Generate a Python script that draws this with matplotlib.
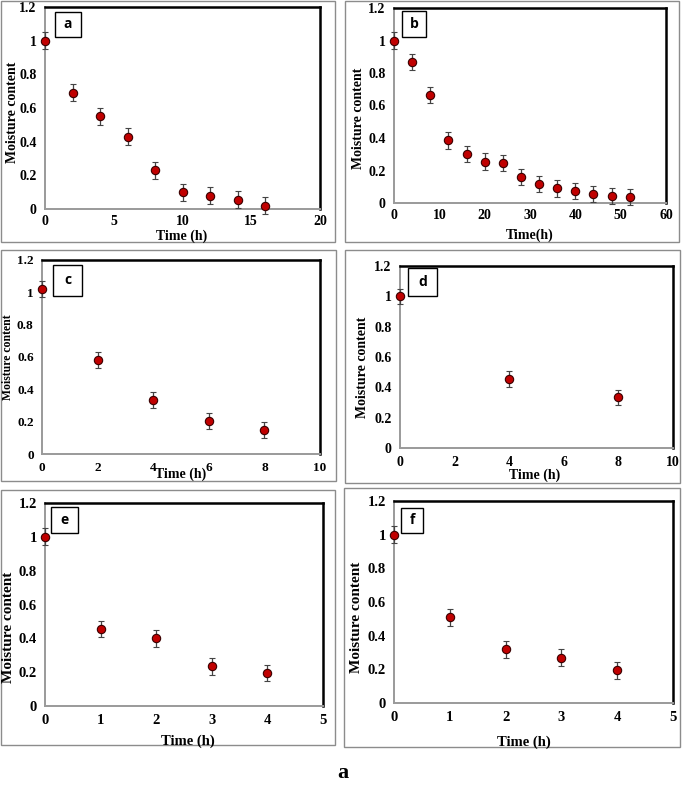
import matplotlib
matplotlib.use("Agg")
import matplotlib.pyplot as plt
from matplotlib.patches import Rectangle
from matplotlib.ticker import FormatStrFormatter

W, H = 685, 793

# data (time in h, normalised moisture content)
time_a = [0, 2, 4, 6, 8, 10, 12, 14, 16]
mc_a = [1.0, 0.69, 0.55, 0.43, 0.23, 0.10, 0.08, 0.055, 0.02]
time_b = [0, 4, 8, 12, 16, 20, 24, 28, 32, 36, 40, 44, 48, 52]
mc_b = [1.0, 0.87, 0.665, 0.385, 0.30, 0.255, 0.245, 0.16, 0.115, 0.09, 0.075, 0.055, 0.045, 0.035]
time_c = [0, 2, 4, 6, 8]
mc_c = [1.02, 0.58, 0.335, 0.205, 0.15]
time_d = [0, 4, 8]
mc_d = [1.0, 0.455, 0.335]
time_e = [0, 1, 2, 3, 4]
mc_e = [1.0, 0.455, 0.40, 0.235, 0.195]
time_f = [0, 1, 2, 3, 4]
mc_f = [1.0, 0.51, 0.32, 0.27, 0.195]
err = 0.05

letters = ["a", "b", "c", "d", "e", "f"]
xlabels = ["Time (h)", "Time(h)", "Time (h)", "Time (h)", "Time (h)", "Time (h)"]
xmax = [20, 60, 10, 10, 5, 5]
xstep = [5, 10, 2, 2, 1, 1]


def fx(px):
    return px / W


def fy(py):
    return 1 - py / H


def rect(x0, y0, x1, y1):
    # pixel box (top-left origin) -> figure fraction rect
    return [fx(x0), fy(y1), fx(x1) - fx(x0), fy(y0) - fy(y1)]


fig = plt.figure(figsize=(W / 100, H / 100), dpi=100)

# outer grey frames of each panel
frames = [(0, 0, 335, 242), (344, 0, 679, 242), (0, 249, 336, 481),
          (344, 249, 680, 483), (0, 489, 335, 745), (343, 487, 680, 747)]
for x0, y0, x1, y1 in frames:
    fig.add_artist(Rectangle((fx(x0 + 0.5), fy(y1)), fx(x1) - fx(x0 + 0.5), fy(y0 + 0.5) - fy(y1),
                             transform=fig.transFigure, fill=False, ec="#8c8c8c", lw=1.0))

axes_px = [(45, 7, 320, 209), (394, 8, 666, 203), (42, 260, 320, 454),
           (400, 266, 673, 448), (45, 503, 323, 706), (394, 501, 673, 703)]
letter_px = [(55, 12, 81, 37), (402, 11, 426, 37), (53, 265, 82, 296),
             (408, 268, 437, 296), (51, 507, 78, 533), (401, 508, 423, 533)]
ylab_px = [(12, 112, 10), (358, 118, 10), (8, 357, 8.5),
           (362, 367, 10), (9, 627, 11), (357, 617, 11)]
xlab_px = [(182, 236, 10), (530, 235, 10), (181, 474, 10),
           (535, 475, 10), (188, 741, 10.5), (524, 742, 10.5)]
tick_fs = [10, 10, 9.5, 10, 10.5, 10.5]
xpad = [4, 4, 6, 6, 6, 6]

series = [(time_a, mc_a), (time_b, mc_b), (time_c, mc_c),
          (time_d, mc_d), (time_e, mc_e), (time_f, mc_f)]

serif = "Liberation Serif"

for i, (t, m) in enumerate(series):
    ax = fig.add_axes(rect(*axes_px[i]))
    ax.errorbar(t, m, yerr=err, fmt="o", ms=6, mfc="#c00000", mec="#3a0000", mew=0.8,
                ecolor="#444444", elinewidth=0.9, capsize=2.5, capthick=0.9, zorder=3,
                clip_on=False)
    ax.set_xlim(0, xmax[i])
    ax.set_ylim(0, 1.2)
    ax.set_xticks(range(0, xmax[i] + 1, xstep[i]))
    ax.set_yticks([0, 0.2, 0.4, 0.6, 0.8, 1.0, 1.2])
    ax.yaxis.set_major_formatter(FormatStrFormatter("%g"))
    ax.tick_params(axis="y", length=0, pad=6, labelsize=tick_fs[i])
    ax.tick_params(axis="x", length=0, pad=xpad[i], labelsize=tick_fs[i])
    for lab in ax.get_xticklabels() + ax.get_yticklabels():
        lab.set_fontfamily(serif)
        lab.set_fontweight("bold")
    for s in ["left", "bottom"]:
        ax.spines[s].set_color("#9a9a9a")
        ax.spines[s].set_linewidth(1.4)
    for s in ["top", "right"]:
        ax.spines[s].set_color("black")
        ax.spines[s].set_linewidth(1.8)

    # panel letter in its own little box
    lx0, ly0, lx1, ly1 = letter_px[i]
    fig.add_artist(Rectangle((fx(lx0), fy(ly1)), fx(lx1) - fx(lx0), fy(ly0) - fy(ly1),
                             transform=fig.transFigure, fc="white", ec="black", lw=1.0, zorder=5))
    fig.text(fx((lx0 + lx1) / 2), fy((ly0 + ly1) / 2), letters[i], ha="center", va="center",
             fontsize=10, fontweight="bold", family="Open Sans", zorder=6)

    yx, yy, yfs = ylab_px[i]
    fig.text(fx(yx), fy(yy), "Moisture content", rotation=90, ha="center", va="center",
             fontsize=yfs, fontweight="bold", family=serif)
    xx, xy, xfs = xlab_px[i]
    fig.text(fx(xx), fy(xy), xlabels[i], ha="center", va="center",
             fontsize=xfs, fontweight="bold", family=serif)

fig.text(fx(343), fy(773), "a", ha="center", va="center", fontsize=16,
         fontweight="bold", family=serif)

fig.savefig("out.png", dpi=100, facecolor="white")
